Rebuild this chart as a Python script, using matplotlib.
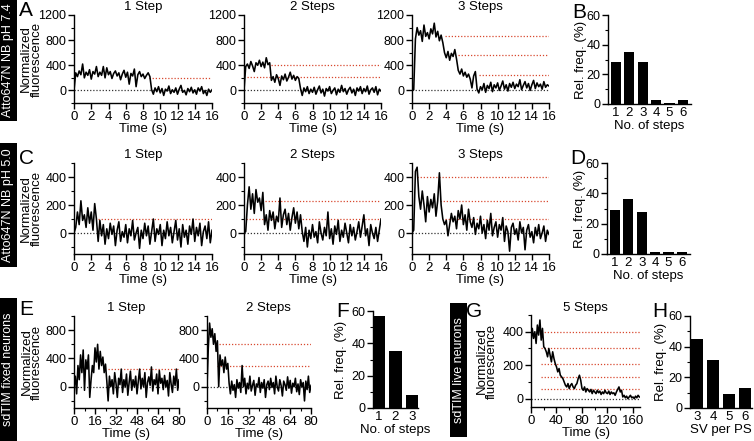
import matplotlib
matplotlib.use("Agg")
import matplotlib.pyplot as plt
import numpy as np
from matplotlib.patches import Rectangle
from matplotlib.ticker import MultipleLocator

plt.rcParams['font.family'] = ['Liberation Sans', 'DejaVu Sans']

# ---------------- data ----------------
t16 = np.arange(0, 16.01, 0.2)
A1 = [0, 280, 220, 310, 250, 420, 200, 290, 240, 330,
      180, 300, 260, 380, 220, 290, 240, 380, 200, 360,
      250, 300, 190, 270, 310, 230, 280, 170, 260, 320,
      210, 290, 100, 270, 230, 340, 60, 250, 300, 220,
      260, 190, 240, 280, 220,
      10, -60, 40, -20, 60,
      -40, 30, -80, 20, -10, 70, -50, 10, -30, 40,
      -60, 20, 80, -30, 0, -70, 30, -20, 50, -40,
      10, -60, 40, -10, 60, -50, 0, -80, 20, -30, 10]
A2 = [0, 380, 420, 350, 460, 390, 300, 440, 400, 480,
      380, 450, 360, 520, 410, 440,
      160, 220, 130, 250,
      190, 80, 230, 170, 260, 150, 210, 290, 180, 240,
      160, 220, 190,
      30, -80, 40, -20, 60, -50, 20,
      -30, 50, -60, 10, 70, -40, 20, -90, 30, -10,
      60, -50, 0, 40, -70, 20, -30, 80, -20, 30,
      -60, 10, 50, -40, 20, -80, 40, -10, 60, -50,
      30, -20, 70, -60, 10, 40, -30, 60, -70, 20, -10]
A3 = [0, 10, 820, 1000, 880, 950, 780, 1040, 860, 920,
      820, 980, 900, 1070, 850, 940, 790, 880, 760,
      600,
      520, 620, 480, 590, 540, 650, 500,
      320, 260, 340, 230, 290, 210, 260, 180, 40, 230, 300,
      20, -40,
      60, 10, 110, -30, 80, 30, 130, -20, 90, 40,
      120, 0, 70, 150, 20, 90, -10, 110, 50, 130,
      30, 100, 60, 170, 10, 80, 140, 40, 110, 0,
      90, 160, 30, 120, 60, 100, 20, 140, 50, 90, 70]
C1 = [0, 40, 150, 60, 230, 90, 130, 40, 180, 70,
      150, 20, 210, 100,
      -60, 90, -20, 60, -80, 30,
      -40, 70, -10, 50, -90, 20, 80, -60, 10, -30,
      60, -70, 30, -20, 90, -50, 0, 40, -110, 20,
      -40, 70, -20, 50, -80, 10, 100, -60, 30, -10,
      60, -90, 20, -40, 80, -20, 40, -70, 10, 90,
      -50, 30, -100, 60, -30, 20, -80, 50, -10, 100,
      -60, 40, -20, 70, -90, 10, 50, -40, 80, -70, 20]
C2 = [0, 10, 200, 330, 170, 280, 140, 310, 220, 250,
      160, 290,
      60, 130, 20, 160, 90, 150, 30, 120,
      80, 250, 40, 130, 170, 60, 140, 20, 110, 180,
      70, 150, 30, 130,
      10, -60, 40, -100, 20, -40,
      60, -30, 10, -70, 80, 0, -50, 40, -20, 150,
      -40, 30, -80, 50, -10, 90, -60, 20, -30, 70,
      0, -70, 60, -20, 40, -50, 10, 80, -30, 50,
      130, -20, 30, -90, 60, 0, -40, 40, -60, 20, 100]
C3 = [0, 20, 440, 470, 260, 170, 300, 200, 80, 260,
      150, 240, 180, 280, 120, 230, 430, 200,
      100, 60,
      90, -20, 60, 140, 80, 120, 30, 160, 100, 200,
      60, 130, 20, 170, 80, 40, 110, -10, 70, 30,
      120, 0, 60, -40, 90, 20, 140, -20, 40, 80,
      -30, 60, 20, 110, -60, 50, 10, -130, 40, 70,
      -10, 30, -50, 80, 0, 40, -120, 20, 60, -30,
      10, -70, 40, -20, 60, -40, 0, 50, -60, 20, -10]
t80 = np.arange(0, 80.01, 1.0)
E1 = [0, 150, -100, 300, 100, 450, 200, 520, -50, 380,
      250, 450, -150, 100, 300, 200, 550, 350, 600, 250,
      500, 300, 420, 200, 320, 80, -200, 150, 0, 100,
      -100, 200, 50, -150, 120, 30, 250, -80, 100, 0,
      180, -120, 60, 220, -50, 100, 0, 150, -100, 80,
      250, -30, 120, 0, 200, -150, 60, 140, 20, 280,
      -60, 100, 30, 180, -100, 230, 50, 120, -40, 160,
      0, 90, -130, 200, 40, -80, 150, 20, 250, -50, 100]
E2 = [0, 550, 900, 700, 820, 600, 750, 500, 650, 0,
      450, 300, 380, 200, 420, 250, 330,
      50, -100, 80,
      -50, 30, -150, 100, -20, 60, -80, 300, 0, 120,
      -100, 50, -30, 150, -60, 20, 90, -120, 40, 0,
      130, -80, 60, -20, 100, -150, 30, 80, -40, 120,
      -10, 60, -100, 150, 0, -60, 100, 20, -130, 80,
      30, -50, 140, -20, 90, -90, 50, 0, 120, -70,
      40, -110, 100, 0, 60, -200, 80, -40, 150, -80, 20]
t170 = np.arange(0, 170.01, 2.0)
G5 = [340, 420, 360, 400, 330, 440, 380, 470, 350, 420,
      310, 300, 280, 250, 300, 260, 220, 280, 240, 210,
      190, 160, 180, 140, 130, 120, 100, 80, 70, 90,
      60, 80, 90, 70, 60, 80, 90, 120, 140, 110,
      60, 50, 70, 40, 60, 50, 40, 55, 30, 50,
      40, 30, 50, 35, 45, 25, 40, 30, 50, 35,
      30, 45, 25, 40, 30, 35, 20, 40, 55, 70,
      40, 50, 10, 20, 5, 15, 0, 10, 20, 5,
      10, 0, 15, 5, 20, 10]

# step levels (value, start time)
A1_steps = [(200, 8.7)]
A2_steps = [(410, 3.1), (210, 0.4)]
A3_steps = [(870, 3.9), (560, 5.4), (240, 7.8)]
C1_steps = [(100, 2.8)]
C2_steps = [(230, 2.4), (100, 0.2)]
C3_steps = [(400, 0.6), (230, 3.3), (100, 3.9)]
E1_steps = [(250, 26)]
E2_steps = [(600, 9), (300, 8)]
G_steps = [(400, 15), (305, 15), (210, 15), (130, 15), (60, 15)]

B_cat = [1, 2, 3, 4, 5, 6]
B_val = [28, 35, 28, 3, 1, 3]
D_cat = [1, 2, 3, 4, 5, 6]
D_val = [29, 36, 28, 1.5, 1.5, 1.5]
F_cat = [1, 2, 3]
F_val = [57, 35, 8]
H_cat = [3, 4, 5, 6]
H_val = [45, 31, 9, 13]

# ---------------- figure ----------------
W, H = 754, 441
fig = plt.figure(figsize=(W / 100, H / 100), dpi=100)

YTICK = 9
XTICK = 9.5
LAB = 9.5
RED = '#d8482e'


def px_axes(x0, x1, ytop, ybot):
    return fig.add_axes([x0 / W, 1 - ybot / H, (x1 - x0) / W, (ybot - ytop) / H])


def style(ax):
    for s in ['top', 'right']:
        ax.spines[s].set_visible(False)
    for s in ['left', 'bottom']:
        ax.spines[s].set_linewidth(1.0)
    ax.tick_params(which='major', direction='out', length=4, width=1, pad=1.5)
    ax.tick_params(axis='y', labelsize=YTICK)
    ax.tick_params(axis='x', labelsize=XTICK)
    ax.tick_params(which='minor', direction='out', length=2.5, width=0.8)


def trace(ax, t, y, steps, xlim, ylim, xmaj, ymaj, ymin, xmin=None, ylabx=None):
    t = np.asarray(t)
    ax.plot([0, xlim[1]], [0, 0], color='#333333', lw=0.9, ls=(0, (1, 1.5)), zorder=1)
    for v, s in steps:
        ax.plot([s, xlim[1]], [v, v], color=RED, lw=0.9, ls=(0, (1, 1.5)), zorder=1)
    ax.plot(t, y, color='black', lw=1.15, zorder=2)
    ax.set_xlim(*xlim)
    ax.set_ylim(*ylim)
    ax.xaxis.set_major_locator(MultipleLocator(xmaj))
    if xmin:
        ax.xaxis.set_minor_locator(MultipleLocator(xmin))
    ax.yaxis.set_major_locator(MultipleLocator(ymaj))
    ax.yaxis.set_minor_locator(MultipleLocator(ymin))
    style(ax)
    ax.set_xlabel('Time (s)', fontsize=LAB, labelpad=0.5)
    if ylabx is not None:
        ax.set_ylabel('Normalized\nfluorescence', fontsize=LAB, linespacing=0.85)
        ax.yaxis.set_label_coords(ylabx, 0.5)


def bars(ax, cats, vals, xlim, xlabel, ylabx):
    ax.bar(cats, vals, width=0.75, color='black', zorder=2)
    ax.set_xlim(*xlim)
    ax.set_ylim(0, 60)
    ax.set_xticks(cats)
    ax.yaxis.set_major_locator(MultipleLocator(20))
    ax.yaxis.set_minor_locator(MultipleLocator(10))
    style(ax)
    ax.tick_params(axis='x', length=0, pad=2.5)
    ax.set_xlabel(xlabel, fontsize=LAB, labelpad=0.5)
    ax.set_ylabel('Rel. freq. (%)', fontsize=LAB)
    ax.yaxis.set_label_coords(ylabx, 0.5)


def title(xc, y, s):
    fig.text(xc / W, 1 - y / H, s, ha='center', va='center', fontsize=LAB)


def letter(x, y, s):
    fig.text(x / W, 1 - y / H, s, ha='left', va='top', fontsize=15)


def rowbox(x0, x1, y0, y1, s):
    fig.patches.append(Rectangle((x0 / W, 1 - y1 / H), (x1 - x0) / W, (y1 - y0) / H,
                                 transform=fig.transFigure, facecolor='black',
                                 edgecolor='none', figure=fig))
    fig.text((x0 + x1) / 2 / W, 1 - (y0 + y1) / 2 / H, s, rotation=90, color='white',
             ha='center', va='center', fontsize=9)


# Row 1 (A, B)
cols = [(74, 212), (244, 381), (412, 549)]
rowA = [(A1, A1_steps, '1 Step'), (A2, A2_steps, '2 Steps'), (A3, A3_steps, '3 Steps')]
for i, ((x0, x1), (y, st, ttl)) in enumerate(zip(cols, rowA)):
    ax = px_axes(x0, x1, 15, 103)
    trace(ax, t16, y, st, (0, 16), (-200, 1200), 2, 400, 200,
          ylabx=(-0.225 if i == 0 else None))
    title((x0 + x1) / 2, 7, ttl)
bx = px_axes(608, 691, 15, 104)
bars(bx, B_cat, B_val, (0.42, 6.6), 'No. of steps', -0.25)

# Row 2 (C, D)
rowC = [(C1, C1_steps, '1 Step'), (C2, C2_steps, '2 Steps'), (C3, C3_steps, '3 Steps')]
for i, ((x0, x1), (y, st, ttl)) in enumerate(zip(cols, rowC)):
    ax = px_axes(x0, x1, 163, 254)
    trace(ax, t16, y, st, (0, 16), (-150, 500), 2, 200, 100,
          ylabx=(-0.225 if i == 0 else None))
    title((x0 + x1) / 2, 155, ttl)
dx = px_axes(607, 690, 163, 254)
bars(dx, D_cat, D_val, (0.42, 6.6), 'No. of steps', -0.25)

# Row 3 (E, F, G, H)
colsE = [(74, 179), (207, 311)]
rowE = [(E1, E1_steps, '1 Step', 126), (E2, E2_steps, '2 Steps', 268)]
for i, ((x0, x1), (y, st, ttl, tc)) in enumerate(zip(colsE, rowE)):
    ax = px_axes(x0, x1, 316, 408)
    trace(ax, t80, y, st, (0, 80), (-300, 1000), 16, 400, 200, xmin=8,
          ylabx=(-0.295 if i == 0 else None))
    title(tc, 308, ttl)
fx = px_axes(373, 418, 311, 408)
bars(fx, F_cat, F_val, (0.68, 3.35), 'No. of steps', -0.58)

gx = px_axes(531, 640, 315, 407)
trace(gx, t170, G5, G_steps, (0, 171), (-50, 500), 40, 200, 100, xmin=20, ylabx=-0.30)
title(585, 308, '5 Steps')
hx = px_axes(690, 752, 316, 408)
bars(hx, H_cat, H_val, (2.56, 6.45), 'SV per PS', -0.37)

# letters
letter(19, 1, 'A')
letter(572, 3, 'B')
letter(19, 149, 'C')
letter(570, 149, 'D')
letter(19, 300, 'E')
letter(336, 302, 'F')
letter(466, 302, 'G')
letter(652, 302, 'H')

# row boxes
rowbox(0, 17, 0, 121, 'Atto647N NB pH 7.4')
rowbox(0, 17, 143, 267, 'Atto647N NB pH 5.0')
rowbox(0, 17, 298, 441, 'sdTIM fixed neurons')
rowbox(450, 467, 303, 437, 'sdTIM live neurons')

fig.savefig('out.png', dpi=100)
